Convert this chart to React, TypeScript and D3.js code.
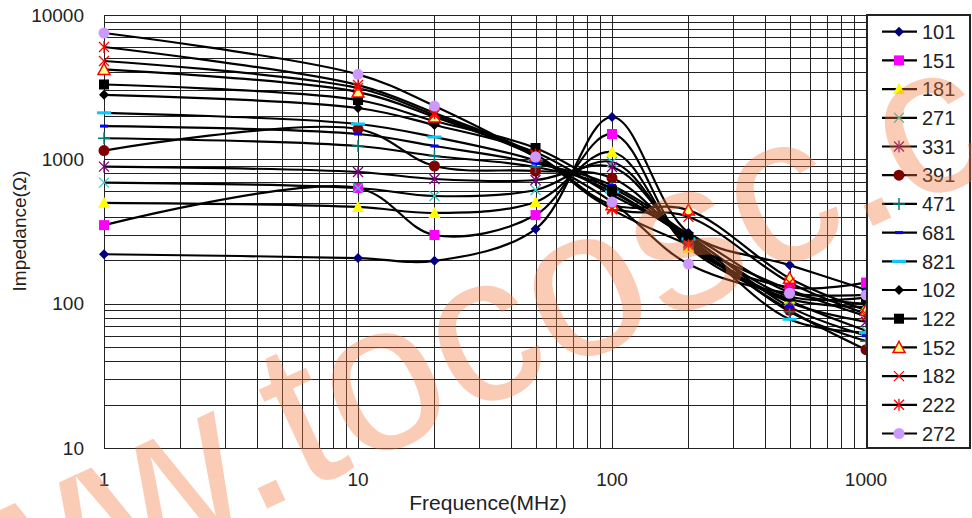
import React from "react";
import * as d3 from "d3";

const freqs = [1, 10, 20, 50, 100, 200, 500, 1000];
const seriesNames = ["101", "151", "181", "271", "331", "391", "471", "681", "821", "102", "122", "152", "182", "222", "272"];
const s101 = [220, 207, 198, 329, 1965, 310, 185, 125];
const s151 = [350, 633, 299, 411, 1498, 250, 130, 140];
const s181 = [500, 468, 425, 506, 1124, 245, 108, 95];
const s271 = [690, 633, 557, 613, 958, 255, 105, 65];
const s331 = [890, 817, 731, 719, 885, 265, 102, 75];
const s391 = [1150, 1622, 899, 830, 743, 270, 90, 48];
const s471 = [1400, 1237, 1055, 885, 633, 285, 88, 55];
const s681 = [1700, 1498, 1237, 940, 660, 300, 95, 60];
const s821 = [2100, 1757, 1428, 980, 594, 280, 78, 63];
const s102 = [2800, 2268, 1728, 1120, 566, 305, 120, 100];
const s122 = [3300, 2576, 1842, 1198, 610, 290, 112, 110];
const s152 = [4200, 2925, 1965, 1050, 484, 445, 150, 90];
const s182 = [4800, 3120, 2028, 1060, 460, 400, 140, 85];
const s222 = [6000, 3270, 2094, 1080, 450, 255, 125, 82];
const s272 = [7500, 3880, 2341, 1038, 506, 188, 118, 115];
const seriesValues = [s101, s151, s181, s271, s331, s391, s471, s681, s821, s102, s122, s152, s182, s222, s272];
const xTicks = [1, 10, 100, 1000];
const yTicks = [10, 100, 1000, 10000];

type MarkerStyle = { kind: string; fill: string; stroke: string };
const markerStyles: MarkerStyle[] = [
  { kind: "diamond", fill: "#000080", stroke: "#000080" },
  { kind: "square", fill: "#FF00FF", stroke: "#FF00FF" },
  { kind: "triangle", fill: "#FFFF00", stroke: "#FFFF00" },
  { kind: "x", fill: "none", stroke: "#33CCCC" },
  { kind: "star", fill: "none", stroke: "#800080" },
  { kind: "circle", fill: "#800000", stroke: "#800000" },
  { kind: "plus", fill: "none", stroke: "#008080" },
  { kind: "dash", fill: "#0000FF", stroke: "#0000FF" },
  { kind: "longdash", fill: "#00CCFF", stroke: "#00CCFF" },
  { kind: "diamond", fill: "#000000", stroke: "#000000" },
  { kind: "square", fill: "#000000", stroke: "#000000" },
  { kind: "triangle", fill: "#FFFF80", stroke: "#FF0000" },
  { kind: "x", fill: "none", stroke: "#FF0000" },
  { kind: "star", fill: "none", stroke: "#FF0000" },
  { kind: "circle", fill: "#CC99FF", stroke: "#CC99FF" },
];

const W = 972;
const H = 518;
const plot = { left: 104, right: 866, top: 15, bottom: 448 };

const x = d3.scaleLog().domain([1, 1000]).range([plot.left, plot.right]);
const y = d3.scaleLog().domain([10, 10000]).range([plot.bottom, plot.top]);

function Marker({ m, cx, cy }: { m: MarkerStyle; cx: number; cy: number }) {
  const r = 5;
  switch (m.kind) {
    case "diamond":
      return <path d={`M${cx},${cy - r}L${cx + r},${cy}L${cx},${cy + r}L${cx - r},${cy}Z`} fill={m.fill} />;
    case "square":
      return <rect x={cx - 5} y={cy - 5} width={10} height={10} fill={m.fill} />;
    case "triangle":
      return (
        <path
          d={`M${cx},${cy - 6}L${cx + 6},${cy + 5}L${cx - 6},${cy + 5}Z`}
          fill={m.fill}
          stroke={m.stroke === m.fill ? "none" : m.stroke}
          strokeWidth={1.5}
        />
      );
    case "circle":
      return <circle cx={cx} cy={cy} r={5.5} fill={m.fill} />;
    case "x":
      return (
        <path
          d={`M${cx - 5},${cy - 5}L${cx + 5},${cy + 5}M${cx - 5},${cy + 5}L${cx + 5},${cy - 5}`}
          stroke={m.stroke}
          strokeWidth={1.3}
        />
      );
    case "star":
      return (
        <path
          d={`M${cx - 5},${cy - 5}L${cx + 5},${cy + 5}M${cx - 5},${cy + 5}L${cx + 5},${cy - 5}M${cx},${cy - 6}L${cx},${cy + 6}`}
          stroke={m.stroke}
          strokeWidth={1.3}
        />
      );
    case "plus":
      return (
        <path d={`M${cx - 6},${cy}L${cx + 6},${cy}M${cx},${cy - 6}L${cx},${cy + 6}`} stroke={m.stroke} strokeWidth={1.5} />
      );
    case "dash":
      return <rect x={cx - 4} y={cy - 1.5} width={8} height={3} fill={m.fill} />;
    case "longdash":
      return <rect x={cx - 7} y={cy - 1.5} width={14} height={3} fill={m.fill} />;
    default:
      return null;
  }
}

export default function App() {
  const xGrid: number[] = [];
  for (let k = 0; k < 3; k++) for (let i = 1; i < 10; i++) xGrid.push(i * Math.pow(10, k));
  xGrid.push(1000);
  const yGrid: number[] = [];
  for (let k = 1; k < 4; k++) for (let i = 1; i < 10; i++) yGrid.push(i * Math.pow(10, k));
  yGrid.push(10000);

  const line = d3
    .line<number>()
    .x((_, i) => x(freqs[i]))
    .y((v) => y(v))
    .curve(d3.curveCatmullRom.alpha(0.5));

  const font = "'Liberation Sans', Arial, sans-serif";
  const legendX = 867;
  const legendY0 = 31.7;
  const legendStep = 28.7;

  return (
    <svg width={W} height={H} style={{ position: "absolute", left: 0, top: 0, background: "#fff" }} fontFamily={font}>
      <rect x={0} y={0} width={W} height={H} fill="#fff" />
      <g shapeRendering="crispEdges">
        {xGrid.map((f) => (
          <line key={"xg" + f} x1={Math.round(x(f)) + 0.5} x2={Math.round(x(f)) + 0.5} y1={plot.top} y2={plot.bottom} stroke="#222" strokeWidth={1.2} />
        ))}
        {yGrid.map((v) => (
          <line key={"yg" + v} x1={plot.left} x2={plot.right} y1={Math.round(y(v)) + 0.5} y2={Math.round(y(v)) + 0.5} stroke="#222" strokeWidth={1.2} />
        ))}
      </g>
      {seriesValues.map((vals, si) => (
        <path key={"l" + si} d={line(vals) || ""} fill="none" stroke="#000" strokeWidth={2.2} />
      ))}
      {seriesValues.map((vals, si) => (
        <g key={"m" + si}>
          {vals.map((v, i) => (
            <Marker key={i} m={markerStyles[si]} cx={x(freqs[i])} cy={y(v)} />
          ))}
        </g>
      ))}
      {yTicks.map((v) => (
        <text key={"yt" + v} x={84} y={y(v)} dy="0.35em" textAnchor="end" fontSize={19} fill="#222">
          {v}
        </text>
      ))}
      {xTicks.map((f) => (
        <text key={"xt" + f} x={x(f)} y={486} textAnchor="middle" fontSize={19} fill="#222">
          {f}
        </text>
      ))}
      <text x={488} y={510} textAnchor="middle" fontSize={21} fill="#222">
        Frequence(MHz)
      </text>
      <text transform="translate(26,231) rotate(-90)" textAnchor="middle" fontSize={19} fill="#222">
        Impedance(Ω)
      </text>
      <g>
        <rect x={legendX} y={15} width={103} height={433} fill="#fff" stroke="#222" strokeWidth={1.2} shapeRendering="crispEdges" />
        {seriesNames.map((name, i) => {
          const ly = legendY0 + legendStep * i;
          return (
            <g key={"lg" + name}>
              <line x1={882} x2={917} y1={ly} y2={ly} stroke="#000" strokeWidth={2.2} />
              <Marker m={markerStyles[i]} cx={899} cy={ly} />
              <text x={922} y={ly} dy="0.36em" fontSize={20} fill="#222">
                {name}
              </text>
            </g>
          );
        })}
      </g>
      <text
        transform="translate(-154,705) rotate(-25)"
        fontSize={211}
        fill="rgb(245,120,60)"
        fillOpacity={0.38}
        fontFamily={font}
      >
        www.tocosc.com
      </text>
    </svg>
  );
}
